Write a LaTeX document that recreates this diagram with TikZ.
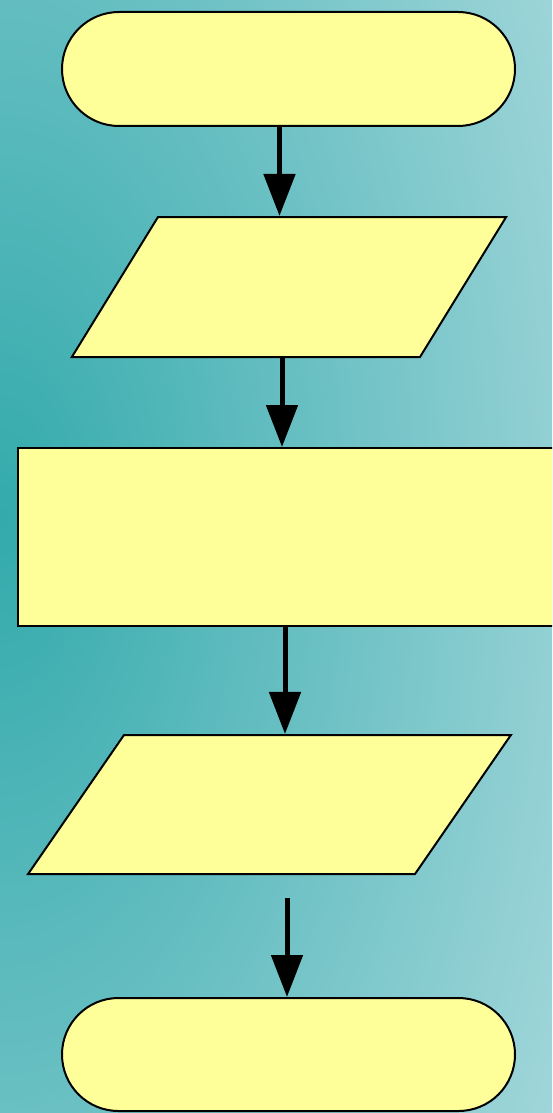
\documentclass[tikz,border=0pt]{standalone}
\usetikzlibrary{shapes.geometric,shapes.misc,arrows.meta}
\definecolor{fondoscuro}{HTML}{33AAAC}
\definecolor{fondochiaro}{HTML}{ABDADE}
\definecolor{giallo}{HTML}{FFFF99}
\pgfdeclareradialshading{alone}{\pgfpoint{0bp}{0bp}}{color(0bp)=(fondoscuro); color(25bp)=(fondochiaro); color(50bp)=(fondochiaro)}
\begin{document}
\begin{tikzpicture}[x=1pt,y=-1pt,
        blocco/.style={draw=black, fill=giallo, line width=2pt, inner sep=0pt},
        termine/.style={blocco, rounded rectangle, minimum width=453pt, minimum height=114pt},
        dati/.style={blocco, trapezium, text depth=0pt},
        freccia/.style={line width=5pt, -{Triangle[length=42pt,width=31pt]}}]
        % Sfondo
        \useasboundingbox (0,0) rectangle (552,1113);
        \clip (0,0) rectangle (552,1113);
        \shade[shading=alone] (0,520) ellipse (700pt and 1300pt);
        % Blocchi
        \node[termine] (inizio) at (288.5,69) {};
        \node[dati, trapezium left angle=58.4, trapezium right angle=121.6,
              text width=262pt, text height=140pt] (ingresso) at (289,287) {};
        \node[blocco, rectangle, minimum width=545pt, minimum height=178pt] (calcolo) at (290.5,537) {};
        \node[dati, trapezium left angle=55.4, trapezium right angle=124.6,
              text width=291pt, text height=139pt] (uscita) at (269.5,804.5) {};
        \node[termine, minimum height=113pt] (fine) at (288.5,1054.5) {};
        % Frecce
        \draw[freccia] ([xshift=-9pt]inizio.south) -- ([xshift=-9pt]inizio.south |- ingresso.north);
        \draw[freccia] ([xshift=-7pt]ingresso.south) -- ([xshift=-7pt]ingresso.south |- calcolo.north);
        \draw[freccia] ([xshift=-5.5pt]calcolo.south) -- ([xshift=-5.5pt]calcolo.south |- uscita.north);
        \draw[freccia] ([xshift=17.5pt,yshift=-23pt]uscita.south) -- ([xshift=17.5pt]uscita.south |- fine.north);
\end{tikzpicture}
\end{document}
